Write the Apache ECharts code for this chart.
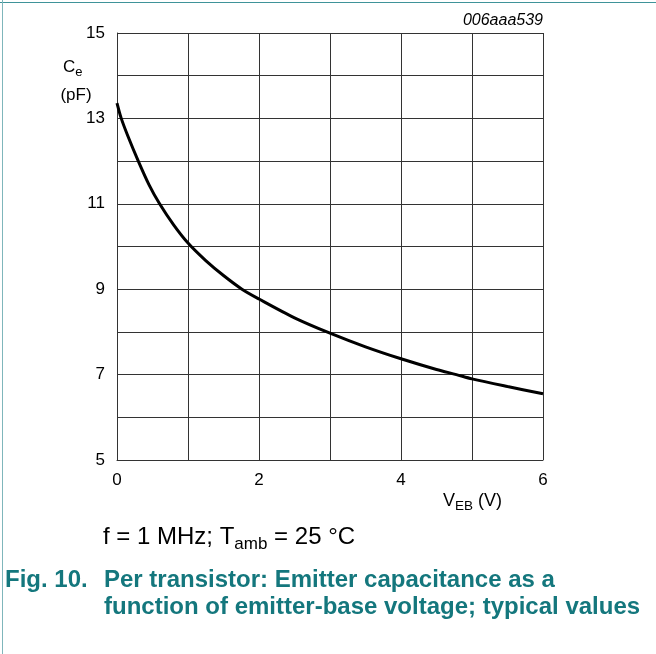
<!DOCTYPE html>
<html>
<head>
<meta charset="utf-8">
<script src="https://cdn.jsdelivr.net/npm/echarts@6/dist/echarts.min.js"></script>
<style>
  html, body { margin: 0; padding: 0; background: #fff; }
  #chart { width: 656px; height: 654px; }
</style>
</head>
<body>
<div id="chart"></div>
<script>
// curve: V_EB (V) -> C_e (pF)
let vEB = [0, 0.06, 0.15, 0.3, 0.45, 0.6, 0.8, 1, 1.25, 1.5, 1.76, 2, 2.5, 3, 3.5, 4, 4.5, 4.78, 5, 5.5, 6]
let cE = [13.36, 13.0, 12.6, 12.0, 11.45, 11.0, 10.5, 10.08, 9.67, 9.32, 9.0, 8.77, 8.33, 7.97, 7.65, 7.37, 7.12, 7.0, 6.9, 6.72, 6.55]
let xTicks = [0, 2, 4, 6]
let yTicks = [5, 7, 9, 11, 13, 15]

const FONT = "'Liberation Sans', Arial, sans-serif"
const TEAL = "#14777d"

// measure text so the subscripts can sit right after their base letters
let ctx = document.createElement("canvas").getContext("2d")
let textW = (str, size, weight) => {
    ctx.font = (weight || "normal") + " " + size + "px " + FONT
    return ctx.measureText(str).width
}

// builds a run of text pieces, some of them subscripts, starting at x
let subText = (x, y, parts, size, subSize) => {
    let out = []
    for (let p of parts) {
        let s = p.sub ? subSize : size
        out.push({
            type: "text",
            x: x,
            y: p.sub ? y + size * 0.3 : y,
            style: {
                text: p.t,
                font: s + "px " + FONT,
                fill: "#000",
                textVerticalAlign: "middle"
            }
        })
        x += textW(p.t, s)
    }
    return out
}

let chart = echarts.init(document.getElementById("chart"), null, { renderer: "canvas" })

let points = vEB.map((v, i) => [v, cE[i]])

let graphics = [
    { type: "line", shape: { x1: 0, y1: 2.5, x2: 656, y2: 2.5 }, style: { stroke: "#3f9399", lineWidth: 1 } },
    { type: "line", shape: { x1: 2.5, y1: 0, x2: 2.5, y2: 654 }, style: { stroke: "#7fb6bb", lineWidth: 1 } },
    {
        type: "text", x: 543, y: 21,
        style: { text: "006aaa539", font: "italic 16px " + FONT, fill: "#000", textAlign: "right", textVerticalAlign: "middle" }
    },
    {
        type: "text", x: 76, y: 95,
        style: { text: "(pF)", font: "17px " + FONT, fill: "#000", textAlign: "center", textVerticalAlign: "middle" }
    },
    {
        type: "text", x: 5, y: 580,
        style: { text: "Fig. 10.", font: "bold 24px " + FONT, fill: TEAL, textVerticalAlign: "middle" }
    },
    {
        type: "text", x: 104, y: 580,
        style: { text: "Per transistor: Emitter capacitance as a", font: "bold 24px " + FONT, fill: TEAL, textVerticalAlign: "middle" }
    },
    {
        type: "text", x: 104, y: 607,
        style: { text: "function of emitter-base voltage; typical values", font: "bold 24px " + FONT, fill: TEAL, textVerticalAlign: "middle" }
    }
]
graphics = graphics.concat(subText(63, 67, [{ t: "C" }, { t: "e", sub: true }], 17, 13))
graphics = graphics.concat(subText(443, 501, [{ t: "V" }, { t: "EB", sub: true }, { t: " (V)" }], 18, 13.5))
graphics = graphics.concat(subText(103, 537, [{ t: "f = 1 MHz; T" }, { t: "amb", sub: true }, { t: " = 25 °C" }], 24, 17))

let final = {
    animation: false,
    grid: { left: 117, right: 113, top: 33, bottom: 194 },
    xAxis: {
        type: "value",
        min: 0,
        max: 6,
        interval: 1,
        axisLine: { show: true, lineStyle: { color: "#333", width: 1 } },
        axisTick: { show: false },
        axisLabel: {
            margin: 12,
            color: "#000",
            fontSize: 17,
            fontFamily: FONT,
            formatter: v => xTicks.includes(v) ? String(v) : ""
        },
        splitLine: { show: true, lineStyle: { color: "#333", width: 1 } }
    },
    yAxis: {
        type: "value",
        min: 5,
        max: 15,
        interval: 1,
        axisLine: { show: true, lineStyle: { color: "#333", width: 1 } },
        axisTick: { show: false },
        axisLabel: {
            margin: 12,
            color: "#000",
            fontSize: 17,
            fontFamily: FONT,
            formatter: v => yTicks.includes(v) ? String(v) : ""
        },
        splitLine: { show: true, lineStyle: { color: "#333", width: 1 } }
    },
    series: [{
        type: "line",
        data: points,
        smooth: 0.3,
        showSymbol: false,
        lineStyle: { color: "#000", width: 3 }
    }],
    graphic: graphics
}

chart.setOption(final)
</script>
</body>
</html>
